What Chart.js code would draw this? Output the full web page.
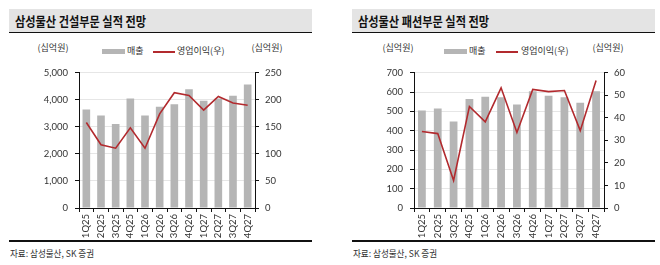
<!DOCTYPE html>
<html><head><meta charset="utf-8">
<script src="https://cdn.jsdelivr.net/npm/chart.js@4.4.0/dist/chart.umd.min.js"></script>
<style>
html,body{margin:0;padding:0;background:#fff;width:660px;height:265px;overflow:hidden;font-family:"Noto Sans CJK KR","Noto Sans",sans-serif;color:#222}
.abs{position:absolute;white-space:nowrap}
.band{background:#e4e4e4;border-bottom:1.5px solid #111;height:23px;top:9px;width:303px}
.title{font-weight:bold;font-size:13px;top:12px;transform:scaleX(0.86);transform-origin:left center;color:#111;line-height:18px}
.unit{font-size:9px;top:42px;line-height:12px;transform:translateX(-50%);color:#333}
.lg{font-size:9px;top:45px;line-height:12px;color:#333}
.box{background:#b5b5b5;height:5px;width:23px;top:49px}
.rl{background:#b22a2e;height:1.5px;width:22px;top:51px}
.foot{font-size:9.5px;top:246px;line-height:14px;color:#333;transform:scaleX(0.9);transform-origin:left center}
.bl{background:#111;height:1.5px;width:303px;top:240px}
canvas{position:absolute}
</style></head>
<body>
<!-- left chart decorations -->
<div class="abs band" style="left:9px"></div>
<div class="abs title" style="left:15px">삼성물산 건설부문 실적 전망</div>
<div class="abs unit" style="left:53px">(십억원)</div>
<div class="abs box" style="left:102px"></div>
<div class="abs lg" style="left:127px">매출</div>
<div class="abs rl" style="left:153px"></div>
<div class="abs lg" style="left:177px">영업이익(우)</div>
<div class="abs unit" style="left:267px">(십억원)</div>
<div class="abs bl" style="left:9px"></div>
<div class="abs foot" style="left:10px">자료: 삼성물산, SK 증권</div>
<!-- right chart decorations -->
<div class="abs band" style="left:352px"></div>
<div class="abs title" style="left:358px">삼성물산 패션부문 실적 전망</div>
<div class="abs unit" style="left:398px">(십억원)</div>
<div class="abs box" style="left:444px"></div>
<div class="abs lg" style="left:469px">매출</div>
<div class="abs rl" style="left:496px"></div>
<div class="abs lg" style="left:521px">영업이익(우)</div>
<div class="abs unit" style="left:608px">(십억원)</div>
<div class="abs bl" style="left:352px"></div>
<div class="abs foot" style="left:353px">자료: 삼성물산, SK 증권</div>

<canvas id="c1" width="330" height="181" style="left:0;top:60px"></canvas>
<canvas id="c2" width="330" height="181" style="left:330px;top:60px"></canvas>
<script>
const categories = ['1Q25','2Q25','3Q25','4Q25','1Q26','2Q26','3Q26','4Q26','1Q27','2Q27','3Q27','4Q27'];
// 건설부문
const conSales = [3640,3420,3100,4050,3420,3740,3830,4385,3960,4050,4150,4560];
const conOP    = [158,117,110.5,148,110.5,174,213,208,181,206,194,190];
// 패션부문
const fasSales = [505,515,447,564,576,573,536,604,581,573,544,604];
const fasOP    = [33.9,33.0,12.2,45.0,38.2,53.3,33.5,52.6,51.6,52.1,34.3,56.5];

const FONT = {family:'Lato, "Noto Sans", sans-serif', size:9.5};
const TXT = '#333';

function makeChart(id, sales, op, leftMax, leftStep, rightMax, rightStep, leftW, rightW, barPct){
  new Chart(document.getElementById(id), {
    data:{
      labels:categories,
      datasets:[
        {type:'line', label:'영업이익(우)', data:op, yAxisID:'y1', borderColor:'#b22a2e', borderWidth:1.6, pointRadius:0, tension:0, order:0},
        {type:'bar', label:'매출', data:sales, yAxisID:'y', backgroundColor:'#b5b5b5', categoryPercentage:1, barPercentage:barPct, order:1}
      ]
    },
    options:{
      responsive:false, animation:false, devicePixelRatio:1,
      layout:{padding:{top:7,bottom:0,left:0,right:0}},
      plugins:{legend:{display:false}, tooltip:{enabled:false}},
      scales:{
        x:{
          grid:{display:true, drawOnChartArea:false, tickLength:4, tickColor:'#111', offset:true},
          border:{color:'#111', width:1},
          ticks:{font:FONT, color:TXT, minRotation:90, maxRotation:90, padding:2, autoSkip:false},
          afterFit:s=>{s.height=33;}
        },
        y:{
          position:'left', min:0, max:leftMax,
          grid:{color:'#e6e6e6', lineWidth:1, tickLength:4, tickColor:'#111'},
          border:{color:'#111', width:1},
          ticks:{stepSize:leftStep, font:FONT, color:TXT, padding:7, callback:v=>v.toLocaleString('en-US')},
          afterFit:s=>{s.width=leftW;}
        },
        y1:{
          position:'right', min:0, max:rightMax,
          grid:{drawOnChartArea:false, tickLength:4, tickColor:'#111'},
          border:{color:'#111', width:1},
          ticks:{stepSize:rightStep, font:FONT, color:TXT, padding:6},
          afterFit:s=>{s.width=rightW;}
        }
      }
    }
  });
}
makeChart('c1', conSales, conOP, 5000, 1000, 250, 50, 79, 75, 0.52);
makeChart('c2', fasSales, fasOP, 700, 100, 60, 10, 84, 56, 0.49);
</script>
</body></html>
